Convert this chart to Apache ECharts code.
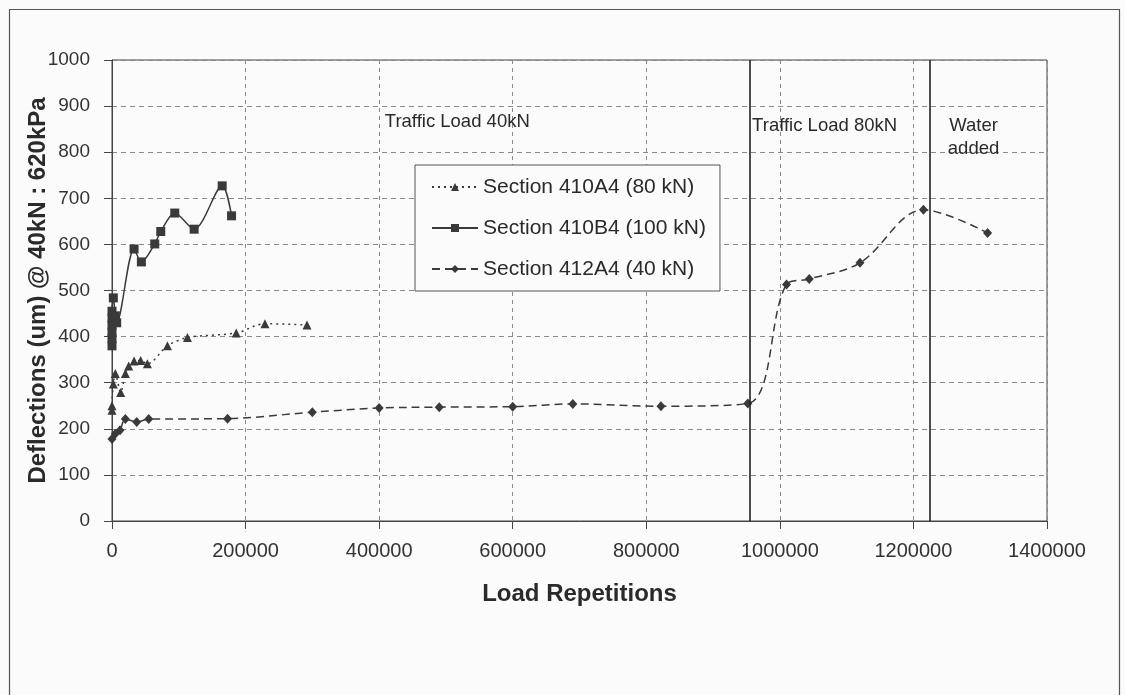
<!DOCTYPE html>
<html>
<head>
<meta charset="utf-8">
<script src="https://cdn.jsdelivr.net/npm/echarts@6/dist/echarts.min.js"></script>
<style>
html,body{margin:0;padding:0;background:#fbfbfb;}
#chart{width:1125px;height:695px;}
</style>
</head>
<body>
<div id="chart"></div>
<script>
// ---- data ----
const seriesNames = ['Section 410A4 (80 kN)', 'Section 410B4 (100 kN)', 'Section 412A4 (40 kN)'];
const s410A4 = [[0,240],[0,250],[2000,297],[5000,320],[13000,279],[20000,320],[25000,336],[33000,347],[43000,348],[53000,341],[83000,380],[113000,398],[186000,408],[229000,428],[292000,425]];
const s410B4 = [[0,380],[0,395],[0,410],[0,425],[0,440],[0,455],[2000,484],[5000,445],[7000,430],[33000,590],[44000,562],[64000,601],[73000,628],[94000,668],[123000,633],[165000,727],[179000,662]];
const s412A4 = [[0,178],[5000,189],[12000,197],[20000,221],[37000,215],[55000,221],[173000,222],[300000,236],[400000,245],[490000,247],[600000,248],[690000,254],[822000,249],[952000,255],[1010000,513],[1044000,525],[1120000,560],[1215000,675],[1311000,625]];
const phaseBoundaries = [955000, 1225000];
const phaseLabels = ['Traffic Load 40kN', 'Traffic Load 80kN', 'Water\nadded'];
const xTicks = {min: 0, max: 1400000, interval: 200000};
const yTicks = {min: 0, max: 1000, interval: 100};
const xTitle = 'Load Repetitions';
const yTitle = 'Deflections (um) @ 40kN : 620kPa';

const ink = '#3a3a3a';
const font = '"Liberation Sans", Arial, sans-serif';

const chart = echarts.init(document.getElementById('chart'), null, {renderer: 'canvas'});
chart.setOption({
  animation: false,
  backgroundColor: '#fbfbfb',
  textStyle: {fontFamily: font},
  graphic: [{
    type: 'rect', left: 7, top: 7, silent: true,
    shape: {width: 1110, height: 700},
    style: {fill: 'none', stroke: '#555', lineWidth: 1.2}
  }],
  grid: {left: 112, right: 78, top: 60, bottom: 174, show: true, borderColor: '#444', borderWidth: 1, backgroundColor: 'transparent'},
  legend: {
    orient: 'vertical', left: 415, top: 165,
    padding: [11, 14, 11, 16],
    borderColor: '#555', borderWidth: 1, backgroundColor: '#fbfbfb',
    itemWidth: 46, itemHeight: 10, itemGap: 19,
    textStyle: {fontSize: 21, color: '#2a2a2a', fontFamily: font, lineHeight: 22},
    data: seriesNames
  },
  xAxis: {
    type: 'value', min: xTicks.min, max: xTicks.max, interval: xTicks.interval,
    name: xTitle, nameLocation: 'middle', nameGap: 61, nameMoveOverlap: false,
    nameTextStyle: {fontSize: 24, fontWeight: 'bold', color: '#2a2a2a', fontFamily: font},
    axisLine: {show: true, lineStyle: {color: '#444', width: 1}},
    axisTick: {show: true, length: 8, lineStyle: {color: '#444'}},
    axisLabel: {fontSize: 20, color: '#333', margin: 20, formatter: v => String(v)},
    splitLine: {show: true, lineStyle: {color: '#8a8a8a', type: [4, 4], width: 1}}
  },
  yAxis: {
    type: 'value', min: yTicks.min, max: yTicks.max, interval: yTicks.interval,
    name: yTitle, nameLocation: 'middle', nameGap: 62, nameRotate: 90, nameMoveOverlap: false,
    nameTextStyle: {fontSize: 24, fontWeight: 'bold', color: '#2a2a2a', fontFamily: font},
    axisLine: {show: true, lineStyle: {color: '#444', width: 1}},
    axisTick: {show: true, length: 8, lineStyle: {color: '#444'}},
    axisLabel: {fontSize: 19, color: '#333', margin: 22, formatter: v => String(v)},
    splitLine: {show: true, lineStyle: {color: '#8a8a8a', type: [5, 4], width: 1}}
  },
  series: [
    {
      name: seriesNames[0], type: 'line', data: s410A4, smooth: 0.3,
      symbol: 'triangle', symbolSize: 9,
      itemStyle: {color: ink},
      lineStyle: {color: ink, width: 1.5, type: [2, 4]}
    },
    {
      name: seriesNames[1], type: 'line', data: s410B4, smooth: 0.3,
      symbol: 'rect', symbolSize: 9,
      itemStyle: {color: ink},
      lineStyle: {color: ink, width: 1.5, type: 'solid'}
    },
    {
      name: seriesNames[2], type: 'line', data: s412A4, smooth: 0.35,
      symbol: 'diamond', symbolSize: [9, 10],
      itemStyle: {color: ink},
      lineStyle: {color: ink, width: 1.5, type: [8, 5]},
      markLine: {
        silent: true, symbol: 'none',
        label: {show: false},
        lineStyle: {color: '#222', width: 1.6, type: 'solid'},
        data: phaseBoundaries.map(v => ({xAxis: v}))
      },
      markPoint: {
        silent: true, symbol: 'circle', symbolSize: 0,
        label: {show: true, position: 'inside', fontSize: 18.5, color: '#2a2a2a', lineHeight: 23, fontFamily: font,
          formatter: p => p.name},
        data: [
          {name: phaseLabels[0], coord: [517000, 866]},
          {name: phaseLabels[1], coord: [1067000, 858]},
          {name: phaseLabels[2], coord: [1290000, 832]}
        ]
      }
    }
  ]
});
</script>
</body>
</html>
